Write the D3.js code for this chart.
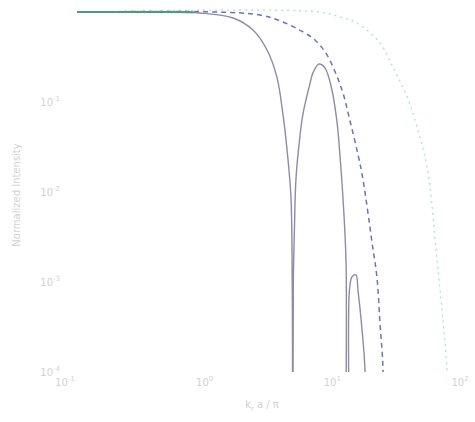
<!DOCTYPE html>
<html><head><meta charset="utf-8">
<script src="https://cdn.jsdelivr.net/npm/d3@7"></script>
<style>body{margin:0;background:#fff}</style>
</head><body>
<svg id="c" width="475" height="422"></svg>
<script>
// x values (log), y values (log, normalized)
const solidX = [0.1,0.4,0.918,1.67,2.39,3.08,3.68,4.11,4.42,4.74,4.85,4.9,4.95,5.05,5.19,5.58,5.89,6.68,7.06,7.86,8.75,9.93,10.9,11.5,12.1,12.8,13.2,13.35,13.6,14.3,15.3,15.9,17.1,18.0,18.4];
const solidY = [1,1,0.975,0.858,0.63,0.378,0.189,0.0718,0.0293,8.8e-3,1e-3,1e-6,1e-3,4e-3,0.014,0.042,0.074,0.160,0.212,0.264,0.239,0.136,0.0584,0.0245,8.8e-3,1.7e-3,1e-6,1e-6,8e-4,1.15e-3,1.2e-3,8e-4,2.9e-4,1.1e-4,1e-6];
const greenX = [0.1,0.4,0.82];
const greenY = [1,1,0.995];
const dashX = [0.1,1.2,2.71,4.11,5.89,7.31,9.08,11.9,13.7,15.9,17.4,20.5,22.4,23.6,24.9,25.5];
const dashY = [1,1,0.926,0.774,0.60,0.489,0.333,0.136,0.063,0.0259,0.0136,2.7e-3,1.1e-3,3.5e-4,1.14e-4,1e-6];
const dotX = [0.1,8.0,11.5,15.6,23.6,29.8,38.5,46.0,53.2,58.2,64.9,72.2,79.1,81];
const dotY = [1,1,0.88,0.755,0.452,0.245,0.114,0.0528,0.0245,0.0114,2.3e-3,4.9e-4,1e-4,1e-6];
const xTicks = [0.1,1,10,100];
const yTicks = [1e-4,1e-3,1e-2,1e-1];
const xExp = [-1,0,1,2];
const yExp = [-4,-3,-2,-1];

const svg = d3.select("#c");
const x = d3.scaleLog().domain([0.1,100]).range([77,460]);
const y = d3.scaleLog().domain([1e-4,1]).range([372,12]);

svg.append("clipPath").attr("id","cp").append("rect")
  .attr("x",77).attr("y",0).attr("width",383).attr("height",372);

const line = d3.line().x(d=>x(d[0])).y(d=>y(d[1])).curve(d3.curveCatmullRom.alpha(0.5));
const g = svg.append("g").attr("clip-path","url(#cp)");
function draw(xs, ys, color, w, dash){
  g.append("path").datum(xs.map((v,i)=>[v,ys[i]]))
   .attr("d",line).attr("fill","none").attr("stroke",color)
   .attr("stroke-width",w).attr("stroke-dasharray",dash||null);
}
draw(dotX,dotY,"#a9e3d3",1.3,"2,4");
draw(dashX,dashY,"#6d73b3",1.5,"5,4");
draw(solidX,solidY,"#8f8aa6",1.4);
draw(greenX,greenY,"#4f9a78",2);

const tc = "#d2d2d2";
xTicks.forEach((t,i)=>{
  const tx = svg.append("text").attr("x",x(t)-(i==0?12:0)).attr("y",386)
    .attr("text-anchor","middle").attr("font-family","DejaVu Sans").attr("font-size",10).attr("fill",tc);
  tx.append("tspan").text("10");
  tx.append("tspan").attr("dy",-5).attr("font-size",7).text(xExp[i]);
});
yTicks.forEach((t,i)=>{
  const tx = svg.append("text").attr("x",60).attr("y",y(t)+4)
    .attr("text-anchor","end").attr("font-family","DejaVu Sans").attr("font-size",10).attr("fill",tc);
  tx.append("tspan").text("10");
  tx.append("tspan").attr("dy",-5).attr("font-size",7).text(yExp[i]);
});
const xl = svg.append("text").attr("x",262).attr("y",408).attr("text-anchor","middle")
  .attr("font-family","DejaVu Sans").attr("font-size",10).attr("fill",tc);
xl.append("tspan").text("k");
xl.append("tspan").attr("dy",3).attr("font-size",7).text("r");
xl.append("tspan").attr("dy",-3).text(" a / π");
svg.append("text").attr("transform","translate(20,195) rotate(-90)").attr("text-anchor","middle")
  .attr("font-family","DejaVu Sans").attr("font-size",10).attr("fill",tc).text("Normalized Intensity");
</script>
</body></html>
